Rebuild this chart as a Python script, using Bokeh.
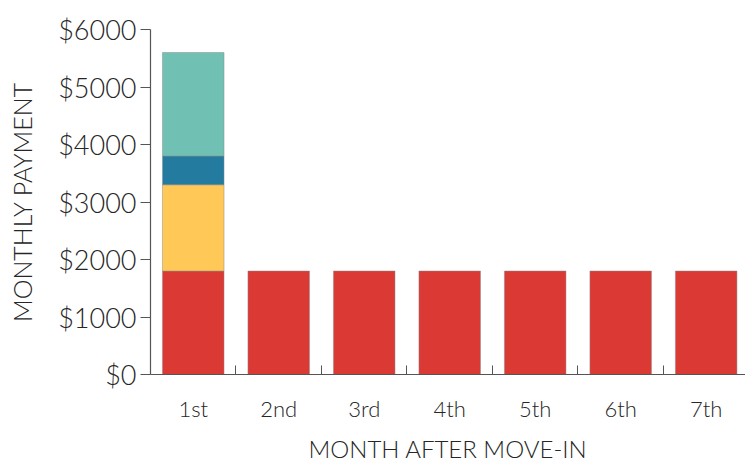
from bokeh.plotting import figure
from bokeh.models import FixedTicker, PrintfTickFormatter, Range1d, ColumnDataSource
from bokeh.transform import stack
from bokeh.embed import file_html
from bokeh.resources import INLINE

months = ["1st", "2nd", "3rd", "4th", "5th", "6th", "7th"]
rent = [1800, 1800, 1800, 1800, 1800, 1800, 1800]
fee_yellow = [1500, 0, 0, 0, 0, 0, 0]
fee_blue = [500, 0, 0, 0, 0, 0, 0]
fee_teal = [1800, 0, 0, 0, 0, 0, 0]
y_ticks = [0, 1000, 2000, 3000, 4000, 5000, 6000]

series = ["rent", "yellow", "blue", "teal"]
colors = ["#DB3A34", "#FFC857", "#247BA0", "#70C1B3"]

xpos = [i + 0.5 for i in range(len(months))]
data = dict(x=xpos, rent=rent, yellow=fee_yellow, blue=fee_blue, teal=fee_teal)
for s in series:
    data[s + "_la"] = [0.8 if v > 0 else 0.0 for v in data[s]]
src = ColumnDataSource(data)

FONT = "Lato Light"
TXT = "#262626"
AX = "#555555"

p = figure(width=745, height=465, output_backend="svg", toolbar_location=None,
           x_range=Range1d(0, 6.96), y_range=Range1d(0, 6000),
           min_border_left=150, min_border_right=0, min_border_top=29, min_border_bottom=90)

for i, s in enumerate(series):
    bottom = stack(*series[:i]) if i > 0 else 0
    p.vbar(x="x", width=0.72, bottom=bottom, top=stack(*series[:i + 1]),
           source=src, fill_color=colors[i], line_color="#8a8a8a", line_width=0.6,
           line_alpha=s + "_la")

p.xgrid.visible = False
p.ygrid.visible = False
p.outline_line_color = None
p.background_fill_color = "white"
p.border_fill_color = "white"

xa = p.xaxis[0]
xa.ticker = FixedTicker(ticks=xpos, minor_ticks=[1, 2, 3, 4, 5, 6])
xa.major_label_overrides = {x: m for x, m in zip(xpos, months)}
xa.major_tick_in = 0
xa.major_tick_out = 0
xa.minor_tick_in = 9
xa.minor_tick_out = 0
xa.minor_tick_line_color = AX
xa.axis_line_color = AX
xa.axis_line_width = 1.2
xa.major_label_standoff = 20
xa.major_label_text_font = FONT
xa.major_label_text_font_size = "22px"
xa.major_label_text_color = TXT
xa.axis_label = "MONTH AFTER MOVE-IN"
xa.axis_label_text_font = FONT
xa.axis_label_text_font_size = "24px"
xa.axis_label_text_font_style = "normal"
xa.axis_label_text_color = TXT
xa.axis_label_standoff = 9

ya = p.yaxis[0]
ya.ticker = FixedTicker(ticks=y_ticks)
ya.formatter = PrintfTickFormatter(format="$%d")
ya.major_tick_in = 0
ya.major_tick_out = 10
ya.minor_tick_in = 0
ya.minor_tick_out = 0
ya.major_tick_line_color = AX
ya.axis_line_color = AX
ya.axis_line_width = 1.2
ya.major_label_standoff = 4
ya.major_label_text_font = FONT
ya.major_label_text_font_size = "27px"
ya.major_label_text_color = TXT
ya.axis_label = "MONTHLY PAYMENT"
ya.axis_label_text_font = FONT
ya.axis_label_text_font_size = "25px"
ya.axis_label_text_font_style = "normal"
ya.axis_label_text_color = TXT
ya.axis_label_standoff = 18

open("out.html", "w").write(file_html(p, INLINE))
